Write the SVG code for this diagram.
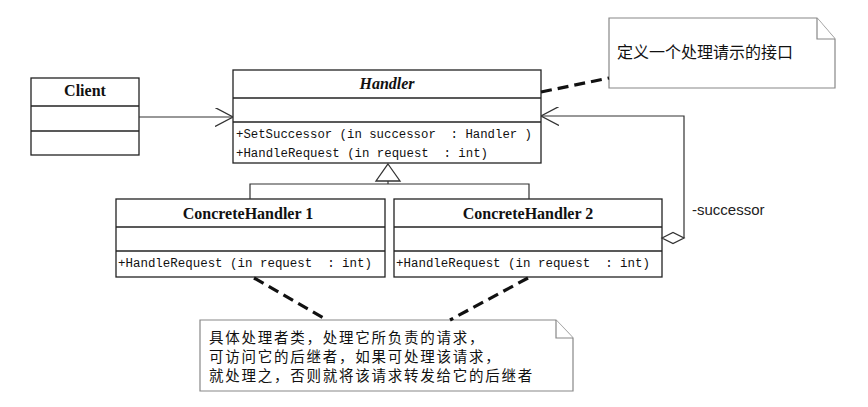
<svg xmlns="http://www.w3.org/2000/svg" width="868" height="407" viewBox="0 0 868 407">
<style>
.box{fill:#fff;stroke:#222;stroke-width:1.3}
.div{stroke:#222;stroke-width:1.3}
.title{font-family:"Liberation Serif","Times New Roman",serif;font-weight:bold;font-size:16px;fill:#111;text-anchor:middle}
.ital{font-style:italic}
.mono{font-family:"Liberation Mono","Courier New",monospace;font-size:12.5px;fill:#111}
.line{fill:none;stroke:#333;stroke-width:1.2}
.dash{fill:none;stroke:#111;stroke-width:3.2;stroke-dasharray:11,6}
.note{fill:#fff;stroke:#888;stroke-width:1.2}
.cjk{font-family:"Noto Sans CJK SC","Noto Sans",sans-serif;font-size:16px;fill:#111}
.cjk2{font-family:"Noto Sans CJK SC","Noto Sans",sans-serif;font-size:14.5px;letter-spacing:1.75px;fill:#111}
.lbl{font-family:"Liberation Sans",Arial,sans-serif;font-size:15px;fill:#222}
</style>
<defs>
<marker id="open" viewBox="0 0 18 19" markerWidth="18" markerHeight="19" refX="18" refY="9.5" orient="auto" markerUnits="userSpaceOnUse">
<path d="M0,0 L18,9.5 L0,19" fill="none" stroke="#333" stroke-width="1.3"/>
</marker>
</defs>
<rect width="868" height="407" fill="#fff"/>

<g id="client">
<rect class="box" x="31" y="78" width="108" height="77"/>
<line class="div" x1="31" y1="106" x2="139" y2="106"/>
<line class="div" x1="31" y1="131" x2="139" y2="131"/>
<text class="title" x="85" y="96">Client</text>
</g>

<g id="handler">
<rect class="box" x="233" y="70" width="308" height="93"/>
<line class="div" x1="233" y1="98" x2="541" y2="98"/>
<line class="div" x1="233" y1="122" x2="541" y2="122"/>
<text class="title ital" x="387" y="89">Handler</text>
<text class="mono" x="236" y="138" textLength="296" lengthAdjust="spacingAndGlyphs" xml:space="preserve">+SetSuccessor (in successor  : Handler )</text>
<text class="mono" x="236" y="157" textLength="252" lengthAdjust="spacingAndGlyphs" xml:space="preserve">+HandleRequest (in request  : int)</text>
</g>

<g id="concrete1">
<rect class="box" x="116" y="199" width="269" height="78"/>
<line class="div" x1="116" y1="227" x2="385" y2="227"/>
<line class="div" x1="116" y1="251" x2="385" y2="251"/>
<text class="title" x="248" y="219">ConcreteHandler 1</text>
<text class="mono" x="118" y="267" textLength="254" lengthAdjust="spacingAndGlyphs" xml:space="preserve">+HandleRequest (in request  : int)</text>
</g>

<g id="concrete2">
<rect class="box" x="394" y="199" width="268" height="78"/>
<line class="div" x1="394" y1="227" x2="662" y2="227"/>
<line class="div" x1="394" y1="251" x2="662" y2="251"/>
<text class="title" x="528" y="219">ConcreteHandler 2</text>
<text class="mono" x="396" y="267" textLength="254" lengthAdjust="spacingAndGlyphs" xml:space="preserve">+HandleRequest (in request  : int)</text>
</g>

<g id="note1">
<path class="note" d="M609,18 L817,18 L835,39 L835,88 L609,88 Z"/>
<path class="note" d="M817,18 L817,39 L835,39"/>
<text class="cjk" x="617" y="58">定义一个处理请示的接口</text>
</g>

<g id="note2">
<path class="note" d="M200,320 L556,320 L573,338 L573,391 L200,391 Z"/>
<path class="note" d="M556,320 L556,338 L573,338"/>
<text class="cjk2" x="209" y="343">具体处理者类，处理它所负责的请求，</text>
<text class="cjk2" x="209" y="362">可访问它的后继者，如果可处理该请求，</text>
<text class="cjk2" x="209" y="381">就处理之，否则就将该请求转发给它的后继者</text>
</g>

<g id="connectors">
<line class="line" x1="139" y1="117" x2="233" y2="117" marker-end="url(#open)"/>
<path class="line" d="M250,199 L250,184 L529,184 L529,199"/>
<line class="line" x1="388" y1="184" x2="388" y2="181"/>
<path fill="#fff" stroke="#333" stroke-width="1.3" d="M388,164 L400,181 L376,181 Z"/>
<path class="line" d="M684,238 L684,116 L541,116" marker-end="url(#open)"/>
<path fill="#fff" stroke="#333" stroke-width="1.3" d="M662,238 L673,232.5 L684,238 L673,243.5 Z"/>
<text class="lbl" x="692" y="215">-successor</text>
<line class="dash" x1="541" y1="92" x2="609" y2="78"/>
<line class="dash" x1="254" y1="278" x2="327" y2="320"/>
<line class="dash" x1="528" y1="278" x2="450" y2="320"/>
</g>
</svg>
